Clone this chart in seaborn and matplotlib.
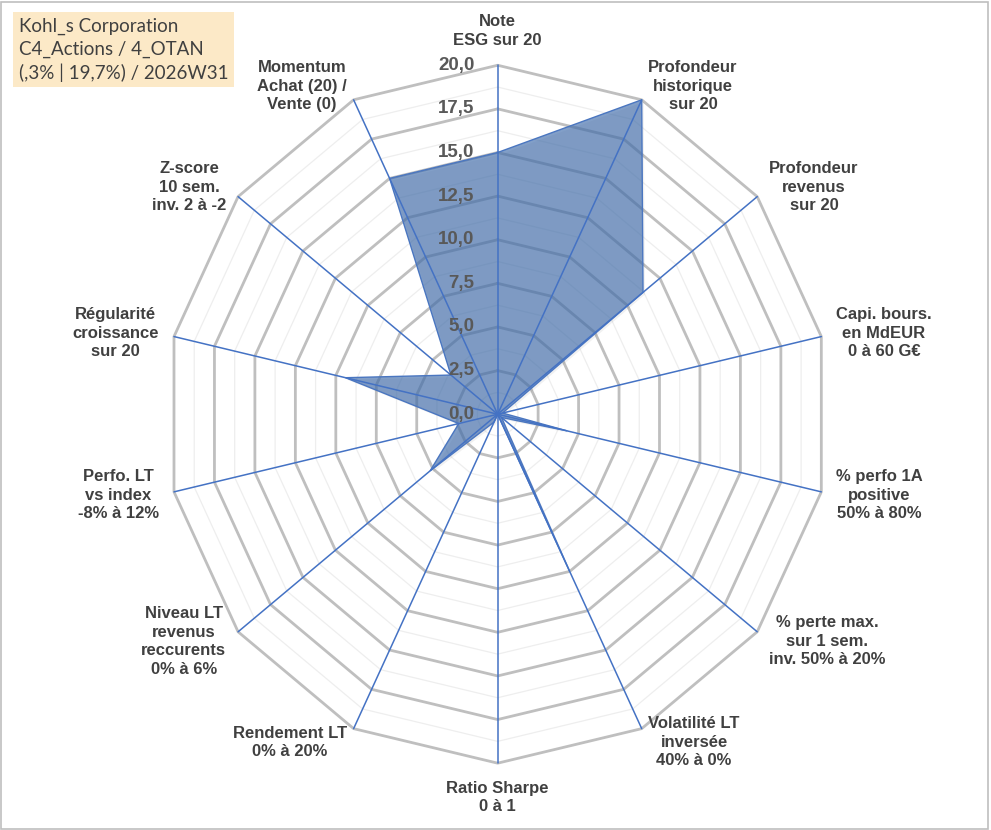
import numpy as np
import matplotlib
matplotlib.use("Agg")
import matplotlib.pyplot as plt
import matplotlib.patches as patches
import seaborn as sns

# axes of the radar, clockwise from the top
categories = [
    "Note\nESG sur 20",
    "Profondeur\nhistorique\nsur 20",
    "Profondeur\nrevenus\nsur 20",
    "Capi. bours.\nen MdEUR\n0 à 60 G€",
    "% perfo 1A\npositive\n50% à 80%",
    "% perte max.\nsur 1 sem.\ninv. 50% à 20%",
    "Volatilité LT\ninversée\n40% à 0%",
    "Ratio Sharpe\n0 à 1",
    "Rendement LT\n0% à 20%",
    "Niveau LT\nrevenus\nreccurents\n0% à 6%",
    "Perfo. LT\nvs index\n-8% à 12%",
    "Régularité\ncroissance\nsur 20",
    "Z-score\n10 sem.\ninv. 2 à -2",
    "Momentum\nAchat (20) /\nVente (0)",
]
scores = [15.0, 20.0, 11.2, 0.3, 4.3, 0.3, 10.0, 0.0, 0.5, 5.2, 2.4, 9.4, 3.6, 15.0]

ring_levels = [0.0, 2.5, 5.0, 7.5, 10.0, 12.5, 15.0, 17.5, 20.0]
tick_labels = ["0,0", "2,5", "5,0", "7,5", "10,0", "12,5", "15,0", "17,5", "20,0"]
title_lines = ["Kohl_s Corporation", "C4_Actions / 4_OTAN", "(,3% | 19,7%) / 2026W31"]

sns.set_theme(style="white")
plt.rcParams['font.family'] = ['Liberation Sans', 'DejaVu Sans']

fig = plt.figure(figsize=(9.91, 8.30), dpi=100)
ax = fig.add_axes([0, 0, 1, 1])
# the original picture is a bit squeezed horizontally
ax.set_xlim(-29.98, 29.72)
ax.set_ylim(-23.83, 23.74)
ax.axis('off')

n = len(categories)
theta = 2 * np.pi * np.arange(n) / n
sx = np.sin(theta)
cy = np.cos(theta)
sx_c = np.append(sx, sx[0])
cy_c = np.append(cy, cy[0])
rmax = ring_levels[-1]

# minor rings
for lv in np.array(ring_levels[:-1]) + 1.25:
    ax.plot(lv * sx_c, lv * cy_c, color='#EEEEEE', lw=0.9, zorder=1)
# major rings
for lv in ring_levels[1:]:
    ax.plot(lv * sx_c, lv * cy_c, color='#BFBFBF', lw=2.0, zorder=2)

# data polygon (light shadow + fill)
vals = np.array(scores)
vals_c = np.append(vals, vals[0])
ax.fill(vals_c * sx_c + 0.12, vals_c * cy_c - 0.12, facecolor=(0.3, 0.3, 0.3, 0.08),
        edgecolor='none', zorder=2.5)
ax.fill(vals_c * sx_c, vals_c * cy_c, facecolor=(66/255, 110/255, 172/255, 0.66),
        edgecolor='#4A76C0', lw=1.0, zorder=3)

# spokes
for s, c in zip(sx, cy):
    ax.plot([0, rmax * s], [0, rmax * c], color='#4472C4', lw=1.1, zorder=4)

# radial tick labels on the top axis
for lv, lbl in zip(ring_levels, tick_labels):
    ax.annotate(lbl, xy=(0, lv), xytext=(-16.5, 0), textcoords='offset points',
                ha='right', va='center', fontsize=13.5, fontweight='bold',
                color='#595959', zorder=6)

# category labels
for cat, s, c in zip(categories, sx, cy):
    if s > 0.05:
        ha, va, pad = 'left', 'center', 11
    elif s < -0.05:
        ha, va, pad = 'right', 'center', 11
    else:
        ha, pad = 'center', 12.5
        va = 'bottom' if c > 0 else 'top'
    ax.annotate(cat, xy=(rmax * s, rmax * c), xytext=(pad * s, pad * c),
                textcoords='offset points', ha=ha, va=va, ma='center',
                fontsize=12, fontweight='bold', color='#404040',
                linespacing=1.3, zorder=6)

# title box
fig.text(19 / 991, 1 - 18 / 830, "\n".join(title_lines), ha='left', va='top',
         fontsize=13.5, color='#404040', family=['Lato', 'DejaVu Sans'],
         linespacing=1.36,
         bbox=dict(facecolor='#FCE9C7', edgecolor='none', boxstyle='square,pad=0.3'))

# outer frame
fig.patches.append(patches.Rectangle((1 / 991, 1 / 830), 987 / 991, 827 / 830,
                                     transform=fig.transFigure, fill=False,
                                     edgecolor='#BFBFBF', lw=1.2))

fig.savefig('out.png', dpi=100)
